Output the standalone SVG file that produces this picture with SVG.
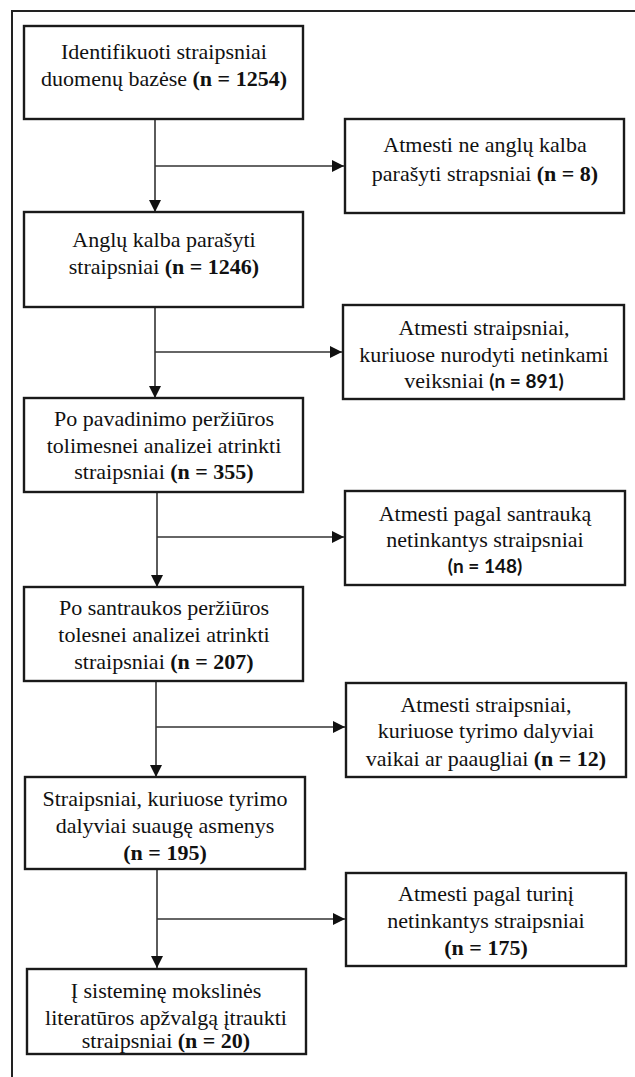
<svg xmlns="http://www.w3.org/2000/svg" width="635" height="1077" viewBox="0 0 635 1077">
<style>
.box{fill:#fff;stroke:#1a1a1a;stroke-width:2.4}
text{font-family:'Liberation Serif','Times New Roman',Times,serif;font-size:22px;fill:#111;text-anchor:middle}
.b{font-weight:bold}
.s{font-family:Lato,'Liberation Sans',sans-serif;font-weight:bold;font-size:19px}
.c{fill:none;stroke:#333;stroke-width:1.6}
.frame{fill:none;stroke:#222;stroke-width:2}
</style>
<defs>
<marker id="ah" markerUnits="userSpaceOnUse" markerWidth="12" markerHeight="12" viewBox="0 0 12 12" refX="12" refY="6" orient="auto">
<path d="M0,0 L12,6 L0,12 Z" fill="#111"/>
</marker>
</defs>
<path class="frame" d="M12,1077 V11 H635"/>
<g id="connectors">
<path class="c" d="M155,119 V212" marker-end="url(#ah)"/>
<path class="c" d="M155,166 H344" marker-end="url(#ah)"/>
<path class="c" d="M155,307 V398" marker-end="url(#ah)"/>
<path class="c" d="M155,352 H342" marker-end="url(#ah)"/>
<path class="c" d="M157,492 V587" marker-end="url(#ah)"/>
<path class="c" d="M157,537 H344" marker-end="url(#ah)"/>
<path class="c" d="M156,681 V777" marker-end="url(#ah)"/>
<path class="c" d="M156,727 H345" marker-end="url(#ah)"/>
<path class="c" d="M157,869 V968" marker-end="url(#ah)"/>
<path class="c" d="M157,919 H345" marker-end="url(#ah)"/>
</g>
<g id="b1">
<rect class="box" x="24" y="26" width="279" height="93"/>
<text x="164" y="59">Identifikuoti straipsniai</text>
<text x="164" y="86">duomenų bazėse <tspan class="b">(n = 1254)</tspan></text>
</g>
<g id="r1">
<rect class="box" x="345" y="119" width="279" height="94"/>
<text x="485" y="152">Atmesti ne anglų kalba</text>
<text x="485" y="181">parašyti strapsniai <tspan class="b">(n = 8)</tspan></text>
</g>
<g id="b2">
<rect class="box" x="24" y="212" width="279" height="95"/>
<text x="164" y="247">Anglų kalba parašyti</text>
<text x="164" y="274">straipsniai <tspan class="b">(n = 1246)</tspan></text>
</g>
<g id="r2">
<rect class="box" x="343" y="305" width="281" height="94"/>
<text x="484" y="335">Atmesti straipsniai,</text>
<text x="484" y="362">kuriuose nurodyti netinkami</text>
<text x="484" y="388">veiksniai <tspan class="s">(n = 891)</tspan></text>
</g>
<g id="b3">
<rect class="box" x="24" y="398" width="279" height="94"/>
<text x="164" y="426">Po pavadinimo peržiūros</text>
<text x="164" y="453">tolimesnei analizei atrinkti</text>
<text x="164" y="479">straipsniai <tspan class="b">(n = 355)</tspan></text>
</g>
<g id="r3">
<rect class="box" x="345" y="491" width="280" height="94"/>
<text x="485" y="521">Atmesti pagal santrauką</text>
<text x="485" y="547">netinkantys straipsniai</text>
<text class="s" x="485" y="573">(n = 148)</text>
</g>
<g id="b4">
<rect class="box" x="24" y="587" width="279" height="94"/>
<text x="164" y="615">Po santraukos peržiūros</text>
<text x="164" y="642">tolesnei analizei atrinkti</text>
<text x="164" y="669">straipsniai <tspan class="b">(n = 207)</tspan></text>
</g>
<g id="r4">
<rect class="box" x="346" y="683" width="280" height="94"/>
<text x="486" y="712">Atmesti straipsniai,</text>
<text x="486" y="738">kuriuose tyrimo dalyviai</text>
<text x="486" y="766">vaikai ar paaugliai <tspan class="b">(n = 12)</tspan></text>
</g>
<g id="b5">
<rect class="box" x="25" y="777" width="280" height="92"/>
<text x="165" y="806">Straipsniai, kuriuose tyrimo</text>
<text x="165" y="833">dalyviai suaugę asmenys</text>
<text class="b" x="165" y="860">(n = 195)</text>
</g>
<g id="r5">
<rect class="box" x="346" y="873" width="280" height="93"/>
<text x="486" y="901">Atmesti pagal turinį</text>
<text x="486" y="928">netinkantys straipsniai</text>
<text class="b" x="486" y="955">(n = 175)</text>
</g>
<g id="b6">
<rect class="box" x="27" y="969" width="279" height="85"/>
<text x="166" y="998">Į sisteminę mokslinės</text>
<text x="166" y="1025">literatūros apžvalgą įtraukti</text>
<text x="166" y="1048">straipsniai <tspan class="b">(n = 20)</tspan></text>
</g>
</svg>
